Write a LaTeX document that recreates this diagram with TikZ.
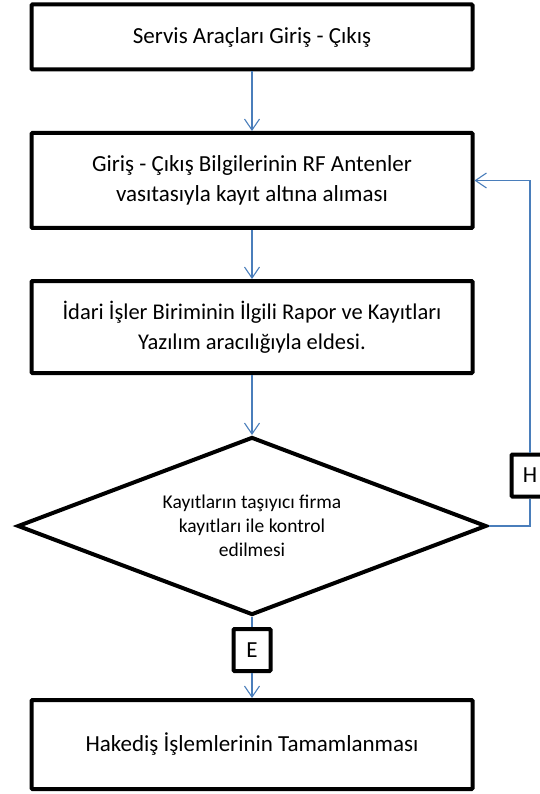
\documentclass[tikz,border=0pt]{standalone}
\usepackage{fontspec}
\setmainfont{Carlito}
\usepackage{xcolor}
\usetikzlibrary{shapes.geometric, arrows.meta, positioning}
\definecolor{linkblue}{RGB}{74,126,187}

\begin{document}
\begin{tikzpicture}[x=1pt, y=-1pt]
\tikzstyle{stepbox} = [rectangle, rounded corners=1pt, line width=4pt, minimum width=441pt, minimum height=92pt, inner sep=2pt, text centered, align=center, draw=black, fill=white, font=\fontsize{23}{30}\selectfont]
\tikzstyle{decision} = [diamond, aspect=2.67, inner sep=0pt, line width=4pt, minimum width=469pt, minimum height=178pt, text centered, align=center, draw=black, fill=white, font=\fontsize{19.5}{24}\selectfont]
\tikzstyle{answer} = [rectangle, rounded corners=1pt, line width=4pt, minimum width=37pt, minimum height=42pt, inner sep=0pt, draw=black, fill=white, font=\fontsize{23}{24}\selectfont]
\tikzstyle{arrow} = [draw=linkblue, line width=1.1pt, -{Straight Barb[length=11pt, width=15pt]}]
\tikzstyle{link} = [draw=linkblue, line width=1.1pt]

\useasboundingbox (0,0) rectangle (539,794);

\node (start) [stepbox, minimum height=65pt] at (252,37) {Servis Araçları Giriş - Çıkış};
\node (info) [stepbox, minimum height=95pt] at (252,180.5) {Giriş - Çıkış Bilgilerinin RF Antenler\\vasıtasıyla kayıt altına alıması};
\node (report) [stepbox, font=\fontsize{22.5}{30}\selectfont] at (252,327) {İdari İşler Biriminin İlgili Rapor ve Kayıtları\\Yazılım aracılığıyla eldesi.};
\node (check) [decision] at (252,526) {Kayıtların taşıyıcı firma\\kayıtları ile kontrol\\edilmesi};
\node (no) [answer] at (530,475.5) {H};
\node (yes) [answer] at (252,650) {E};
\node (done) [stepbox, minimum height=89pt] at (252,744.5) {Hakediş İşlemlerinin Tamamlanması};

\draw [arrow] (start) -- (info);
\draw [arrow] (info) -- (report);
\draw [arrow] (report) -- (check);
\draw [link] (check.south) -- (yes);
\draw [arrow] (yes) -- (done);
\draw [link] (check.east) -| (no);
\draw [arrow] (no) |- (info.east);
\end{tikzpicture}
\end{document}
